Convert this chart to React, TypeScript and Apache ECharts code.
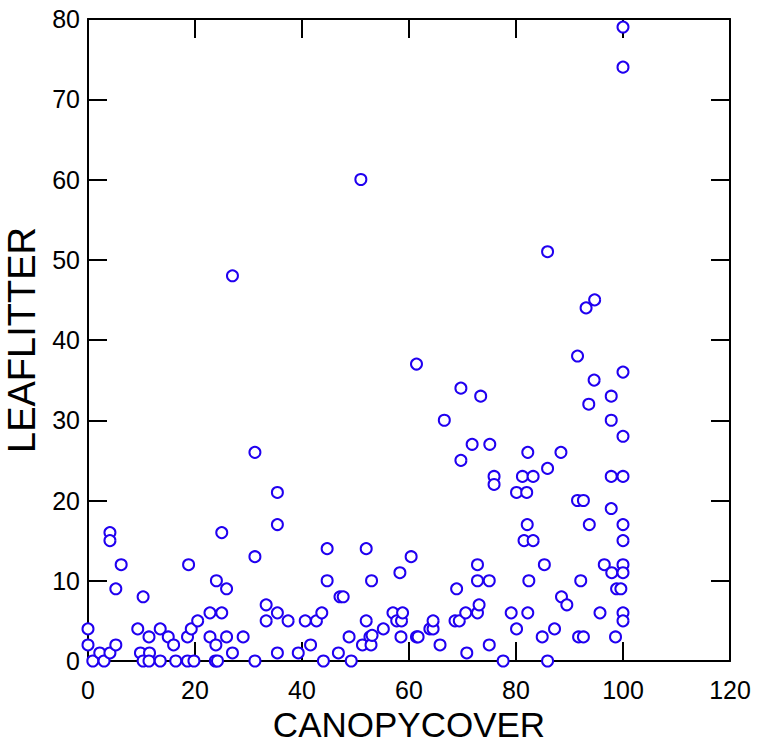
import React, { useEffect, useRef } from "react";
import * as echarts from "echarts";

const canopyCover: number[] = [
  0, 0, 0.9, 2.2, 3, 4.1, 4.1, 4.1, 5.2, 5.2,
  6.2, 9.3, 9.8, 10.3, 10.3, 11.4, 11.5, 11.4, 13.5, 13.5,
  15, 16, 16.4, 18.6, 18.6, 18.8, 19.3, 19.8, 20.5, 22.8,
  22.8, 23.9, 23.8, 24.2, 24, 25, 25, 25.9, 25.9, 27,
  27, 29, 31.2, 31.2, 31.2, 33.3, 33.3, 35.4, 35.4, 35.4,
  35.4, 37.4, 39.3, 40.6, 41.6, 42.7, 43.7, 44, 44.7, 44.7,
  46.8, 47.1, 47.7, 48.8, 49.2, 51, 51.3, 52, 52, 52.7,
  52.9, 53.1, 53, 55.2, 57, 57.7, 58.3, 58.5, 58.6, 58.8,
  60.4, 61.4, 61.4, 61.7, 63.9, 64.5, 64.5, 65.8, 66.6, 68.6,
  68.9, 69.4, 69.7, 69.7, 70.6, 70.8, 71.8, 72.8, 72.8, 72.8,
  73.1, 73.4, 75, 75, 75.1, 75.9, 75.9, 77.6, 79.1, 80.1,
  80.1, 81.2, 81.5, 82, 82.1, 82.2, 82.2, 82.4, 83.2, 83.2,
  84.9, 85.3, 85.9, 85.9, 85.9, 87.2, 88.4, 88.5, 89.5, 91.5,
  91.5, 91.7, 92.1, 92.6, 92.6, 93.1, 93.6, 93.7, 94.6, 94.7,
  95.7, 96.5, 97.8, 97.8, 97.8, 97.8, 97.9, 98.6, 98.8, 99.6,
  100, 100, 100, 100, 100, 100, 100, 100, 100, 100,
  100,
];

const leafLitter: number[] = [
  4, 2, 0, 1, 0, 1, 16, 15, 2, 9,
  12, 4, 1, 0, 8, 3, 1, 0, 4, 0,
  3, 2, 0, 3, 0, 12, 4, 0, 5, 3,
  6, 2, 0, 0, 10, 16, 6, 3, 9, 1,
  48, 3, 0, 13, 26, 7, 5, 17, 21, 6,
  1, 5, 1, 5, 2, 5, 6, 0, 14, 10,
  1, 8, 8, 3, 0, 60, 2, 14, 5, 3,
  2, 3.2, 10, 4, 6, 5, 11, 3, 5, 6,
  13, 37, 3, 3, 4, 4, 5, 2, 30, 5,
  9, 5, 34, 25, 6, 1, 27, 12, 10, 6,
  7, 33, 10, 2, 27, 23, 22, 0, 6, 4,
  21, 23, 15, 21, 17, 26, 6, 10, 15, 23,
  3, 12, 0, 24, 51, 4, 26, 8, 7, 38,
  20, 3, 10, 20, 3, 44, 32, 17, 35, 45,
  6, 12, 33, 30, 23, 19, 11, 3, 9, 9,
  79, 74, 36, 28, 23, 17, 15, 12, 11, 6,
  5,
];

const xTicks = { min: 0, max: 120, interval: 20 };
const yTicks = { min: 0, max: 80, interval: 10 };

const FONT = "'Liberation Sans', Arial, sans-serif";

export default function App() {
  const ref = useRef<HTMLDivElement>(null);

  useEffect(() => {
    if (!ref.current) return;
    const chart = echarts.init(ref.current, null, { renderer: "svg" });
    const data = canopyCover.map((x, i) => [x, leafLitter[i]]);

    const lineStyle = { color: "#000", width: 2 };
    const tickStyle = { show: true, inside: true, length: 19, lineStyle: { color: "#000", width: 2 } };

    chart.setOption({
      animation: false,
      backgroundColor: "#fff",
      grid: {
        left: 88,
        top: 19,
        right: 27,
        bottom: 83,
        containLabel: false,
        outerBoundsMode: "none",
      },
      xAxis: [
        {
          type: "value",
          position: "bottom",
          ...xTicks,
          name: "CANOPYCOVER",
          nameLocation: "middle",
          nameGap: 44,
          nameTextStyle: { fontSize: 35, lineHeight: 35, color: "#000", fontFamily: FONT },
          axisLine: { show: true, onZero: false, lineStyle },
          axisTick: tickStyle,
          axisLabel: { fontSize: 25, color: "#000", fontFamily: FONT, margin: 16 },
          splitLine: { show: false },
        },
        {
          type: "value",
          position: "top",
          ...xTicks,
          axisLine: { show: true, onZero: false, lineStyle },
          axisTick: tickStyle,
          axisLabel: { show: false },
          splitLine: { show: false },
        },
      ],
      yAxis: [
        {
          type: "value",
          position: "left",
          ...yTicks,
          name: "LEAFLITTER",
          nameLocation: "middle",
          nameGap: 44,
          nameTextStyle: { fontSize: 38, color: "#000", fontFamily: FONT },
          axisLine: { show: true, onZero: false, lineStyle },
          axisTick: tickStyle,
          axisLabel: { fontSize: 25, color: "#000", fontFamily: FONT, margin: 8 },
          splitLine: { show: false },
        },
        {
          type: "value",
          position: "right",
          ...yTicks,
          axisLine: { show: true, onZero: false, lineStyle },
          axisTick: tickStyle,
          axisLabel: { show: false },
          splitLine: { show: false },
        },
      ],
      series: [
        {
          type: "scatter",
          xAxisIndex: 0,
          yAxisIndex: 0,
          data,
          symbol: "emptyCircle",
          symbolSize: 11,
          clip: false,
          itemStyle: { color: "#2000f0", borderColor: "#2000f0", borderWidth: 2.2, opacity: 1 },
        },
      ],
    });

    return () => chart.dispose();
  }, []);

  return (
    <div
      ref={ref}
      style={{ position: "fixed", left: 0, top: 0, width: 757, height: 744, background: "#fff" }}
    />
  );
}
